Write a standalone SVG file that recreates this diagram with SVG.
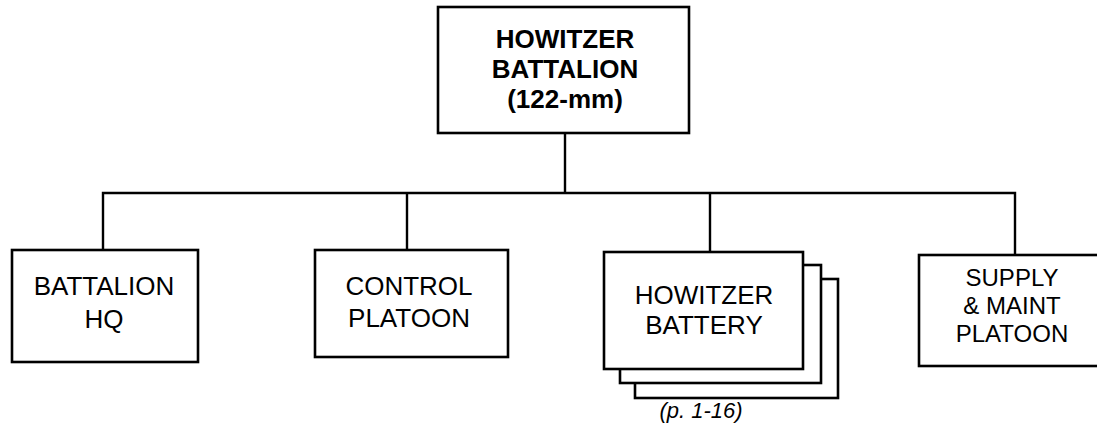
<svg xmlns="http://www.w3.org/2000/svg" width="1097" height="434" viewBox="0 0 1097 434">
<style>
.box{fill:#fff;stroke:#000;stroke-width:2.6}
.ln{fill:none;stroke:#000;stroke-width:2.4}
.t{font-family:"Liberation Sans",Arial,sans-serif;font-size:26px;text-anchor:middle;fill:#000}
.ts{font-family:"Liberation Sans",Arial,sans-serif;font-size:24px;text-anchor:middle;fill:#000}
.tb{font-family:"Liberation Sans",Arial,sans-serif;font-size:26px;font-weight:bold;text-anchor:middle;fill:#000}
.note{font-family:"Liberation Sans",Arial,sans-serif;font-size:22px;font-style:italic;text-anchor:middle;fill:#000}
</style>
<rect width="1097" height="434" fill="#fff"/>
<g id="connectors">
<path class="ln" d="M565,133 V193 M103,250 V193 H1015 V255 M407,193 V250 M710,193 V252"/>
</g>
<g id="battalion">
<rect class="box" x="438" y="7" width="251" height="126"/>
<text class="tb" x="565" y="48">HOWITZER</text>
<text class="tb" x="565" y="78">BATTALION</text>
<text class="tb" x="565" y="108">(122-mm)</text>
</g>
<g id="hq">
<rect class="box" x="12" y="250" width="186" height="112"/>
<text class="t" x="104" y="295">BATTALION</text>
<text class="t" x="104" y="328">HQ</text>
</g>
<g id="control">
<rect class="box" x="315" y="250" width="193" height="107"/>
<text class="t" x="409" y="295">CONTROL</text>
<text class="t" x="409" y="327">PLATOON</text>
</g>
<g id="battery">
<rect class="box" x="635" y="279" width="203" height="119"/>
<rect class="box" x="620" y="265" width="201" height="118"/>
<rect class="box" x="604" y="252" width="199" height="117"/>
<text class="t" x="704" y="304">HOWITZER</text>
<text class="t" x="704" y="334">BATTERY</text>
<text class="note" x="701" y="418">(p. 1-16)</text>
</g>
<g id="supply">
<rect class="box" x="919" y="255" width="190" height="111"/>
<text class="ts" x="1012" y="286">SUPPLY</text>
<text class="ts" x="1012" y="314">&amp; MAINT</text>
<text class="ts" x="1012" y="342">PLATOON</text>
</g>
</svg>
